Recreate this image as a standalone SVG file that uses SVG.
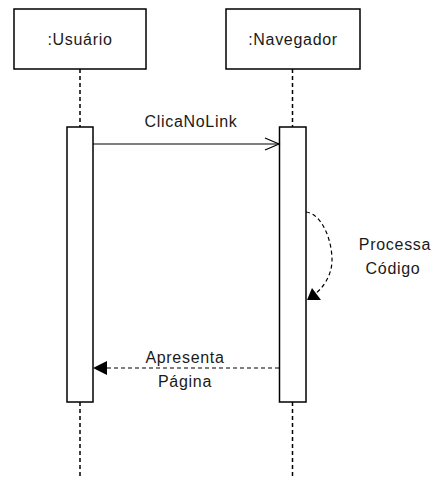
<svg xmlns="http://www.w3.org/2000/svg" width="433" height="479" viewBox="0 0 433 479">
  <style>
    .box { fill: #ffffff; stroke: #000000; stroke-width: 1.5; }
    .life { fill: none; stroke: #000000; stroke-width: 1.5; stroke-dasharray: 4 3; }
    .msg { fill: none; stroke: #000000; stroke-width: 1.2; }
    .ret { fill: none; stroke: #000000; stroke-width: 1.2; stroke-dasharray: 4 3; }
    .lbl { font-family: "Liberation Sans", Arial, sans-serif; font-size: 16px; letter-spacing: 0.7px; fill: #1a1a1a; }
  </style>
  <rect width="433" height="479" fill="#ffffff"/>

  <!-- lifelines -->
  <g id="lifelines">
    <line class="life" x1="80" y1="69" x2="80" y2="127"/>
    <line class="life" x1="80" y1="402" x2="80" y2="479"/>
    <line class="life" x1="292.5" y1="69" x2="292.5" y2="127"/>
    <line class="life" x1="292.5" y1="402" x2="292.5" y2="479"/>
  </g>

  <g id="usuario">
    <rect class="box" x="14" y="9" width="132" height="60"/>
    <text class="lbl" x="80" y="45" text-anchor="middle">:Usuário</text>
    <rect class="box" x="67" y="127" width="26" height="275"/>
  </g>

  <g id="navegador">
    <rect class="box" x="226" y="9" width="134" height="60"/>
    <text class="lbl" x="293" y="45" text-anchor="middle">:Navegador</text>
    <rect class="box" x="279.5" y="127" width="26.5" height="275"/>
  </g>

  <g id="connectors">
    <!-- ClicaNoLink: synchronous call with open arrowhead -->
    <line class="msg" x1="93" y1="144" x2="279" y2="144"/>
    <polyline class="msg" points="265,138 279,144 265,150"/>
    <text class="lbl" x="191" y="127" text-anchor="middle">ClicaNoLink</text>

    <!-- Processa Código: self message -->
    <path class="ret" d="M306,212 C322,214 332,240 332,260 C332,276 322,290 312,296"/>
    <polygon points="307,300 312,288 321,300" fill="#000000"/>
    <text class="lbl" x="395" y="250" text-anchor="middle">Processa</text>
    <text class="lbl" x="393" y="274" text-anchor="middle">Código</text>

    <!-- Apresenta Página: return message -->
    <line class="ret" x1="279" y1="368" x2="106" y2="368"/>
    <polygon points="93,368 107,361 107,375" fill="#000000"/>
    <text class="lbl" x="185" y="363" text-anchor="middle">Apresenta</text>
    <text class="lbl" x="185" y="387" text-anchor="middle">Página</text>
  </g>
</svg>
